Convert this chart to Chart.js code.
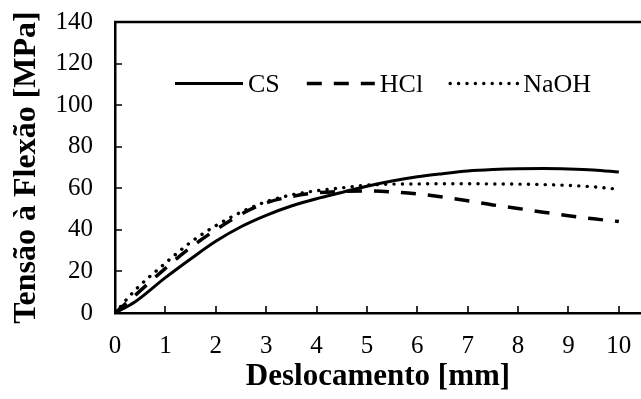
<!DOCTYPE html>
<html>
<head>
<meta charset="utf-8">
<script src="https://cdn.jsdelivr.net/npm/chart.js@4.4.0/dist/chart.umd.min.js"></script>
<style>
    html, body { margin: 0; padding: 0; background: #fff; }
</style>
</head>
<body>
<canvas id="flexaoChart" width="641" height="399"></canvas>
<script>
// deslocamento [mm] and tensão [MPa]
const deslocamento = [0, 0.4, 1, 1.5, 2, 2.5, 3, 3.5, 4, 4.5, 5, 5.5, 6, 6.5, 7, 7.5, 8, 8.5, 9, 9.5, 10];
const tensaoCS   = [0, 5.4, 17, 26, 34.5, 41.5, 47, 51.5, 55, 58, 61, 63.5, 65.5, 67, 68.3, 69, 69.4, 69.5, 69.3, 68.8, 67.8];
const tensaoHCl  = [0, 8.5, 21.5, 31.5, 40, 47.5, 53, 56, 57.8, 58.5, 58.7, 58.3, 57.3, 55.8, 54, 52, 50.3, 48.5, 46.8, 45.3, 44];
const tensaoNaOH = [0, 11, 24, 34, 42, 48.5, 53.5, 56.8, 58.8, 60.2, 61.5, 62, 62.1, 62.2, 62.2, 62.1, 62, 61.8, 61.4, 60.7, 59.5];
const seriesLabels = ["CS", "HCl", "NaOH"];
const xTicks = [0, 1, 2, 3, 4, 5, 6, 7, 8, 9, 10];
const yTicks = [0, 20, 40, 60, 80, 100, 120, 140];

const fontFamily = '"Liberation Serif", "Times New Roman", serif';

function toPoints(values) {
    return deslocamento.map((x, i) => ({x: x, y: values[i]}));
}

// top border + inward tick marks (Excel style)
const framePlugin = {
    id: 'frame',
    afterDraw(chart) {
        const {ctx, chartArea, scales} = chart;
        ctx.save();
        ctx.strokeStyle = '#000';
        ctx.lineWidth = 2.5;
        ctx.beginPath();
        ctx.moveTo(chartArea.left - 1, chartArea.top);
        ctx.lineTo(chartArea.right, chartArea.top);
        ctx.stroke();

        ctx.lineWidth = 1.6;
        ctx.beginPath();
        scales.x.ticks.forEach(t => {
            const px = Math.round(scales.x.getPixelForValue(t.value));
            ctx.moveTo(px, chartArea.bottom);
            ctx.lineTo(px, chartArea.bottom - 7);
        });
        scales.y.ticks.forEach(t => {
            const py = Math.round(scales.y.getPixelForValue(t.value));
            ctx.moveTo(chartArea.left, py);
            ctx.lineTo(chartArea.left + 7, py);
        });
        ctx.stroke();
        ctx.restore();
    }
};

// legend drawn inside the plot area, one row
const innerLegend = {
    id: 'innerLegend',
    afterDraw(chart) {
        const ctx = chart.ctx;
        let x = 175;
        const y = 83.5;
        ctx.save();
        ctx.font = '26px ' + fontFamily;
        ctx.fillStyle = '#000';
        ctx.textBaseline = 'alphabetic';
        chart.data.datasets.forEach(ds => {
            ctx.strokeStyle = ds.borderColor;
            ctx.lineWidth = ds.borderWidth;
            ctx.lineCap = ds.borderCapStyle || 'butt';
            ctx.setLineDash(ds.borderDash || []);
            ctx.beginPath();
            ctx.moveTo(x, y);
            ctx.lineTo(x + 68, y);
            ctx.stroke();
            ctx.setLineDash([]);
            x += 73;
            ctx.fillText(ds.label, x, y + 8.5);
            x += ctx.measureText(ds.label).width + 27;
        });
        ctx.restore();
    }
};

let ctx = document.getElementById("flexaoChart");

let flexaoChart = new Chart(ctx, {
    type: 'line',
    data: {
        datasets: [
            {
                label: seriesLabels[0],
                data: toPoints(tensaoCS),
                borderColor: '#000',
                borderWidth: 3,
                borderCapStyle: 'butt'
            },
            {
                label: seriesLabels[1],
                data: toPoints(tensaoHCl),
                borderColor: '#000',
                borderWidth: 3.5,
                borderDash: [15, 12],
                borderCapStyle: 'butt'
            },
            {
                label: seriesLabels[2],
                data: toPoints(tensaoNaOH),
                borderColor: '#000',
                borderWidth: 3.4,
                borderDash: [0.1, 8.3],
                borderCapStyle: 'round'
            }
        ]
    },
    options: {
        responsive: false,
        animation: false,
        devicePixelRatio: 1,
        layout: {padding: {top: 22, right: 0, left: 0, bottom: 0}},
        elements: {
            point: {radius: 0},
            line: {cubicInterpolationMode: 'monotone', fill: false}
        },
        scales: {
            x: {
                type: 'linear',
                min: 0,
                max: 10.44,
                afterBuildTicks: s => { s.ticks = xTicks.map(v => ({value: v})); },
                afterFit: s => { s.height = 86; s.paddingLeft = 0; s.paddingRight = 0; },
                grid: {display: false, drawTicks: false},
                border: {display: true, color: '#000', width: 2.5},
                ticks: {
                    padding: 18,
                    color: '#000',
                    maxRotation: 0,
                    autoSkip: false,
                    font: {family: fontFamily, size: 25}
                },
                title: {
                    display: true,
                    text: 'Deslocamento [mm]',
                    color: '#000',
                    padding: {top: 0, bottom: 3},
                    font: {family: fontFamily, size: 31, weight: 'bold'}
                }
            },
            y: {
                min: 0,
                max: 140,
                afterBuildTicks: s => { s.ticks = yTicks.map(v => ({value: v})); },
                afterFit: s => { s.width = 115; s.paddingTop = 0; s.paddingBottom = 0; },
                grid: {display: false, drawTicks: false},
                border: {display: true, color: '#000', width: 2.5},
                ticks: {
                    padding: 22,
                    color: '#000',
                    autoSkip: false,
                    font: {family: fontFamily, size: 25}
                },
                title: {
                    display: true,
                    text: 'Tensão à Flexão [MPa]',
                    color: '#000',
                    padding: {top: 8, bottom: 0},
                    font: {family: fontFamily, size: 32, weight: 'bold'}
                }
            }
        },
        plugins: {
            legend: {display: false},
            title: {display: false},
            tooltip: {enabled: false}
        }
    },
    plugins: [framePlugin, innerLegend]
});
</script>
</body>
</html>
